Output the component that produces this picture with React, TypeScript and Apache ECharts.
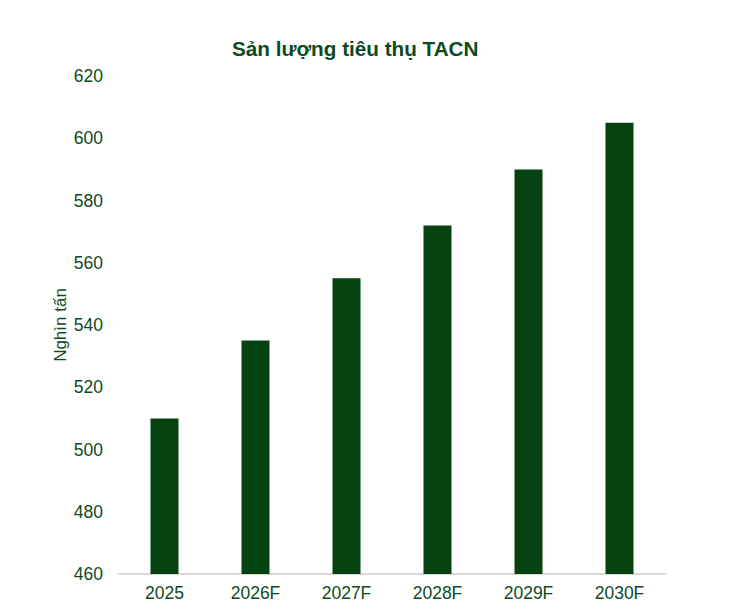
import React, { useEffect, useRef } from 'react';
import * as echarts from 'echarts';

const categories = ['2025', '2026F', '2027F', '2028F', '2029F', '2030F'];
const volumes = [510, 535, 555, 572, 590, 605];

const GREEN_BAR = '#05420f';
const GREEN_TEXT = '#0d4a1e';
const FONT = 'Liberation Sans, Arial, sans-serif';

const App: React.FC = () => {
  const chartRef = useRef<HTMLDivElement>(null);

  useEffect(() => {
    document.body.style.margin = '0';
    if (!chartRef.current) return;
    const chart = echarts.init(chartRef.current, undefined, { renderer: 'svg' });

    chart.setOption({
      animation: false,
      backgroundColor: '#ffffff',
      title: {
        text: 'Sản lượng tiêu thụ TACN',
        left: 227,
        top: 33,
        textStyle: {
          fontFamily: FONT,
          fontSize: 20.7,
          fontWeight: 'bold',
          color: GREEN_TEXT
        }
      },
      grid: { left: 119, right: 88, top: 76, bottom: 39 },
      xAxis: {
        type: 'category',
        data: categories,
        axisLine: { lineStyle: { color: '#d9d9d9', width: 2 } },
        axisTick: { show: false },
        axisLabel: {
          margin: 10,
          fontFamily: FONT,
          fontSize: 17.5,
          color: GREEN_TEXT
        }
      },
      yAxis: {
        type: 'value',
        min: 460,
        max: 620,
        interval: 20,
        name: 'Nghìn tấn',
        nameLocation: 'middle',
        nameGap: 50,
        nameMoveOverlap: false,
        nameTextStyle: {
          fontFamily: FONT,
          fontSize: 17,
          color: GREEN_TEXT
        },
        axisLine: { show: false },
        axisTick: { show: false },
        splitLine: { show: false },
        axisLabel: {
          margin: 16,
          fontFamily: FONT,
          fontSize: 17.5,
          color: GREEN_TEXT
        }
      },
      series: [
        {
          type: 'bar',
          data: volumes,
          barWidth: 28,
          itemStyle: { color: GREEN_BAR }
        }
      ]
    });

    return () => {
      chart.dispose();
    };
  }, []);

  return <div ref={chartRef} style={{ width: '753px', height: '613px' }} />;
};

export default App;
